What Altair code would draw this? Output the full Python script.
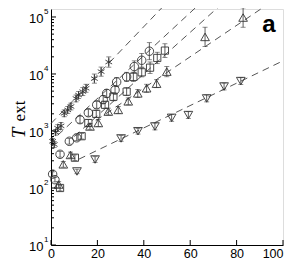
import altair as alt
import pandas as pd

# ---------------- data ----------------
# asterisks
A_X = [0.7, 1.4, 2.0, 2.9, 4.3, 5.7, 7.2, 8.6, 10.8, 11.9, 13.7, 15.1, 18.7, 21.6, 24.9]
A_T = [660, 580, 950, 1120, 1230, 2040, 2340, 2690, 3720, 4270, 4900, 5620, 8300, 11000, 16200]
A_E = [0.05, 0.05, 0.05, 0.06, 0.06, 0.06, 0.06, 0.06, 0.06, 0.06, 0.07, 0.07, 0.08, 0.08, 0.09]
# circles
B_X = [0.7, 1.7, 3.9, 7.9, 11.1, 12.5, 16.1, 19.7, 22.5, 24.0, 27.6, 28.3, 32.6, 35.9, 39.1, 42.4]
B_T = [175, 140, 390, 660, 760, 1580, 2090, 2880, 3550, 4570, 5250, 7240, 8900, 13500, 17400, 25100]
B_E = [0.04, 0.04, 0.05, 0.05, 0.05, 0.06, 0.06, 0.06, 0.07, 0.07, 0.07, 0.08, 0.08, 0.1, 0.12, 0.15]
# squares
C_X = [3.9, 10.3, 13.2, 16.1, 19.5, 23.3, 26.9, 32.6, 35.5, 39.1, 42.7, 45.8, 49.1]
C_T = [100, 340, 810, 1380, 2000, 2880, 3980, 4900, 8900, 10700, 12900, 19100, 25700]
C_E = [0.05, 0.05, 0.05, 0.06, 0.06, 0.06, 0.07, 0.07, 0.08, 0.08, 0.1, 0.1, 0.12]
# triangles up
D_X = [3.3, 5.3, 8.4, 16.8, 20.4, 24.7, 29.0, 33.3, 37.4, 41.2, 45.5, 49.9, 66.4, 82.8]
D_T = [115, 260, 380, 1200, 1380, 2190, 2340, 3310, 4570, 5620, 6760, 11000, 44700, 97700]
D_E = [0.05, 0.05, 0.05, 0.05, 0.06, 0.06, 0.06, 0.06, 0.07, 0.07, 0.07, 0.09, 0.17, 0.17]
# triangles down
E_X = [11.2, 19.0, 30.2, 37.5, 44.8, 52.0, 59.2, 67.1, 74.6, 81.8]
E_T = [195, 316, 740, 990, 1200, 1700, 1900, 3720, 6030, 7500]
E_E = [0.04, 0.05, 0.05, 0.05, 0.06, 0.06, 0.06, 0.06, 0.06, 0.06]

# dashed fit lines: start and end points
L_ID = ["l1", "l2", "l3", "l4", "l5"]
L_X0 = [0, 3, 10, 15, 12]
L_T0 = [1350, 850, 800, 1160, 320]
L_X1 = [50, 65.5, 75, 95.5, 100]
L_T1 = [180000, 192000, 190000, 190000, 17000]

X_TICKS = [0, 20, 40, 60, 80, 100]
Y_DECADES = [10, 100, 1000, 10000, 100000]
Y_EXP = ["1", "2", "3", "4", "5"]
Y_MINOR = [m * d for d in [10, 100, 1000, 10000] for m in range(2, 10)]

# ---------------- tables ----------------
def series(xs, ts, es, name):
    return pd.DataFrame({
        "x": xs, "T": ts, "s": name,
        "lo": [t / 10 ** e for t, e in zip(ts, es)],
        "hi": [t * 10 ** e for t, e in zip(ts, es)],
    })

pts = pd.concat([
    series(A_X, A_T, A_E, "A"), series(B_X, B_T, B_E, "B"),
    series(C_X, C_T, C_E, "C"), series(D_X, D_T, D_E, "D"),
    series(E_X, E_T, E_E, "E"),
], ignore_index=True)

lines = pd.DataFrame({
    "id": L_ID + L_ID,
    "x": L_X0 + L_X1,
    "T": L_T0 + L_T1,
})

H = 236
xsc = alt.Scale(domain=[0, 100], nice=False)
ysc = alt.Scale(type="log", domain=[10, 138000], nice=False)
xax = alt.Axis(values=X_TICKS, tickSize=0, labelPadding=2, labelFontSize=12.5,
               labelFont="Liberation Sans", labelColor="black", labelFlush=False,
               labelAlign={"condition": {"test": "datum.value === 100", "value": "right"},
                           "value": "center"},
               domainColor="black", domainWidth=1, grid=False, format="d")
yax = alt.Axis(values=Y_DECADES, tickSize=0, labelPadding=8, labelFontSize=13,
               labelFont="Liberation Sans", labelColor="black", labelExpr="'10'",
               labelOffset=1.5, domainColor="black", domainWidth=1, grid=False)

def X(f):
    return alt.X(f, scale=xsc, axis=xax, title=None)

def Y(f):
    return alt.Y(f, scale=ysc, axis=yax, title=None)

GRAY = "#333333"

line_layer = alt.Chart(lines).mark_line(
    color="#555555", strokeWidth=1, strokeDash=[7, 5], clip=False
).encode(x=X("x:Q"), y=Y("T:Q"), detail="id:N")

err = alt.Chart(pts).mark_rule(color=GRAY, strokeWidth=0.8).encode(
    x=X("x:Q"), y=Y("lo:Q"), y2="hi:Q")
cap_lo = alt.Chart(pts).mark_tick(color=GRAY, orient="horizontal", size=5, thickness=0.8).encode(
    x=X("x:Q"), y=Y("lo:Q"))
cap_hi = alt.Chart(pts).mark_tick(color=GRAY, orient="horizontal", size=5, thickness=0.8).encode(
    x=X("x:Q"), y=Y("hi:Q"))

ASTER = "M0,-1L0,1M-0.866,-0.5L0.866,0.5M-0.866,0.5L0.866,-0.5"
shapes = {"A": (ASTER, 60), "B": ("circle", 72), "C": ("square", 52),
          "D": ("triangle-up", 75), "E": ("triangle-down", 75)}
point_layers = []
for s, (shp, sz) in shapes.items():
    point_layers.append(
        alt.Chart(pts[pts.s == s]).mark_point(
            shape=shp, size=sz, filled=False, color=GRAY, strokeWidth=0.9, opacity=1
        ).encode(x=X("x:Q"), y=Y("T:Q"))
    )

xt = alt.Chart(pd.DataFrame({"v": X_TICKS})).mark_rule(color="black", strokeWidth=1).encode(
    x=X("v:Q"), y=alt.value(H), y2=alt.value(H - 5))
ytm = alt.Chart(pd.DataFrame({"v": Y_DECADES})).mark_rule(color="black", strokeWidth=1).encode(
    y=Y("v:Q"), x=alt.value(0), x2=alt.value(5))
ytn = alt.Chart(pd.DataFrame({"v": Y_MINOR})).mark_rule(color="black", strokeWidth=1).encode(
    y=Y("v:Q"), x=alt.value(0), x2=alt.value(3))

exps = alt.Chart(pd.DataFrame({"v": Y_DECADES, "e": Y_EXP})).mark_text(
    align="left", baseline="middle", fontSize=8, font="Liberation Sans", color="black", dy=-5
).encode(y=Y("v:Q"), x=alt.value(-7), text="e:N")

t_main = alt.Chart(pd.DataFrame({"t": ["T"]})).mark_text(
    angle=270, align="center", baseline="alphabetic", fontSize=19, fontStyle="italic",
    font="Liberation Serif", color="black"
).encode(x=alt.value(-26), y=alt.value(124), text="t:N")
t_sub = alt.Chart(pd.DataFrame({"t": ["ext"]})).mark_text(
    angle=270, align="center", baseline="alphabetic", fontSize=17,
    font="Liberation Serif", color="black"
).encode(x=alt.value(-26), y=alt.value(102), text="t:N")
lab_a = alt.Chart(pd.DataFrame({"t": ["a"]})).mark_text(
    align="center", baseline="alphabetic", fontSize=24, fontWeight="bold",
    font="Liberation Sans", color="black"
).encode(x=alt.value(218), y=alt.value(23), text="t:N")

chart = alt.layer(
    line_layer, err, cap_lo, cap_hi, *point_layers, xt, ytm, ytn, exps, t_main, t_sub, lab_a
).properties(
    width=232, height=H,
    padding={"left": 43, "top": 1, "right": 1, "bottom": 14},
    autosize=alt.AutoSizeParams(type="none"),
).configure_view(stroke=None).configure(background="white")

chart.save("out.html", embed_options={"renderer": "svg", "actions": False})
